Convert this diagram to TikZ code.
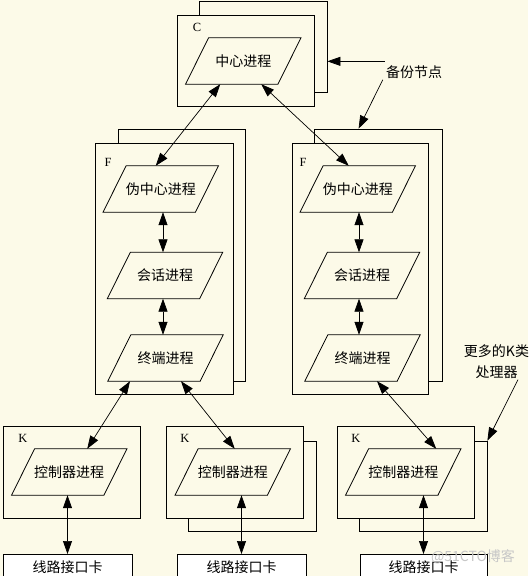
\documentclass[tikz,border=0pt]{standalone}
\usepackage{fontspec}
\setmainfont{Liberation Serif}
\newfontfamily\cjk{Noto Sans CJK SC}
\usetikzlibrary{arrows.meta,fit}
\definecolor{bgc}{RGB}{252,250,232}
\newcommand\mypara[4]{%
  \node[ptext] (#1) at (#2,#3) {#4};
  \draw[pline] ([xshift=-11.5pt]#1.south west) -- ([xshift=-11.5pt]#1.south east)
     -- ([xshift=11.5pt]#1.north east) -- ([xshift=11.5pt]#1.north west) -- cycle;
}
\tikzset{
  frame/.style={draw, fill=bgc, line width=0.8pt, inner sep=0pt},
  pline/.style={line width=0.8pt},
  ptext/.style={minimum width=92pt, minimum height=46pt, inner sep=0pt,
    font=\cjk\fontsize{14}{16}\selectfont},
  lbl/.style={inner sep=0pt, font=\fontsize{12.5}{14}\selectfont},
  card/.style={draw, fill=white, line width=0.8pt, minimum width=129pt,
    minimum height=26pt, inner sep=0pt, font=\cjk\fontsize{14}{16}\selectfont},
  note/.style={inner sep=1pt, font=\cjk\fontsize{14}{21}\selectfont, align=center},
  dbl/.style={line width=0.7pt, {Triangle[length=13pt,width=9pt]}-{Triangle[length=13pt,width=9pt]}},
  sgl/.style={line width=0.7pt, -{Triangle[length=13pt,width=9pt]}},
}
\begin{document}
\begin{tikzpicture}[x=1pt,y=-1pt]
\fill[bgc] (0,0) rectangle (528,576);
\useasboundingbox (0,0) rectangle (528,576);

% C
\node[frame, fit={(199,1) (327,92)}] (cback) {};
\node[frame, fit={(177,15) (314,106)}] (cfront) {};
\node[lbl] (cl) at (197,27) {C};
\mypara{c}{243.25}{61}{中心进程}

% left F
\node[frame, fit={(118,129) (245,381)}] (lfback) {};
\node[frame, fit={(95,143) (233,394)}] (lffront) {};
\node[lbl] (lfl) at (108,162) {F};
\mypara{lf1}{160.75}{189}{伪中心进程}
\mypara{lf2}{165}{275.5}{会话进程}
\mypara{lf3}{165.5}{358}{终端进程}

% right F
\node[frame, fit={(314,129) (442,381)}] (rfback) {};
\node[frame, fit={(292,143) (428,394)}] (rffront) {};
\node[lbl] (rfl) at (303,162) {F};
\mypara{rf1}{357.75}{189}{伪中心进程}
\mypara{rf2}{362}{275.5}{会话进程}
\mypara{rf3}{362.5}{358}{终端进程}

% K boxes
\node[frame, fit={(3,426) (140,518)}] (k1front) {};
\node[frame, fit={(188,441) (316,531)}] (k2back) {};
\node[frame, fit={(166,426) (303,518)}] (k2front) {};
\node[frame, fit={(359,441) (487,531)}] (k3back) {};
\node[frame, fit={(337,426) (474,518)}] (k3front) {};
\node[lbl] (k1l) at (23,438) {K};
\node[lbl] (k2l) at (185,438) {K};
\node[lbl] (k3l) at (356,438) {K};
\mypara{k1}{69.25}{472}{控制器进程}
\mypara{k2}{232.75}{472}{控制器进程}
\mypara{k3}{403.25}{472}{控制器进程}

% cards
\node[card, anchor=north] (card1) at (67.5,554) {线路接口卡};
\node[card, anchor=north] (card2) at (241.5,554) {线路接口卡};
\node[card, anchor=north, minimum width=127pt] (card3) at (423.5,554) {线路接口卡};

% notes
\node[note] (bk) at (414,72) {备份节点};
\node[note] (more) at (496.5,361.5) {更多的K类\\处理器};
\node[note, text=black!22] (wm) at (473,557) {@51CTO博客};

% connectors
\draw[dbl] ([xshift=-23pt]c.south) -- ([xshift=-5pt]lf1.north);
\draw[dbl] ([xshift=18pt]c.south) -- ([xshift=-9pt]rf1.north);
\draw[dbl] ([xshift=2.25pt]lf1.south) -- ([xshift=-2pt]lf2.north);
\draw[dbl] ([xshift=-2pt]lf2.south) -- ([xshift=-2.5pt]lf3.north);
\draw[dbl] ([xshift=1.25pt]rf1.south) -- ([xshift=-3pt]rf2.north);
\draw[dbl] ([xshift=-3pt]rf2.south) -- ([xshift=-3.5pt]rf3.north);
\draw[dbl] ([xshift=-35.5pt]lf3.south) -- ([xshift=18pt]k1.north);
\draw[dbl] ([xshift=15.5pt]lf3.south) -- ([xshift=2pt]k2.north);
\draw[dbl] ([xshift=14.5pt]rf3.south) -- ([xshift=33pt]k3.north);
\draw[dbl] (k1.south -| card1.north) -- (card1.north);
\draw[dbl] (k2.south -| card2.north) -- (card2.north);
\draw[dbl] (k3.south -| card3.north) -- (card3.north);
\draw[sgl] ([yshift=3pt]bk.north west) -- ([yshift=3pt]bk.north west -| cback.east);
\draw[sgl] ([xshift=-2pt]bk.south west) -- ([xshift=45pt]rfback.north west);
\draw[sgl] ([xshift=21.5pt]more.south) -- (k3back.north east);
\end{tikzpicture}
\end{document}
